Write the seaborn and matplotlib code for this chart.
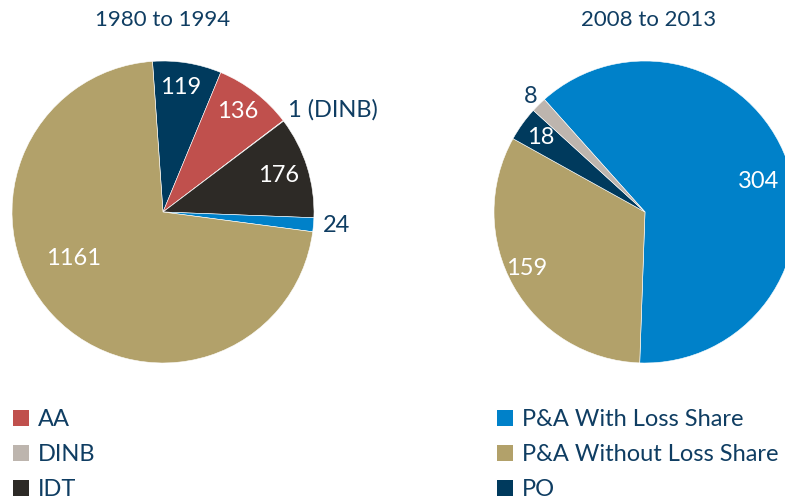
import numpy as np
import matplotlib
matplotlib.use("Agg")
import matplotlib.pyplot as plt
import seaborn as sns
from matplotlib.patches import Patch

sns.set_theme(style="white")
plt.rcParams["font.family"] = ["Lato", "DejaVu Sans"]

# data
left_title = "1980 to 1994"
left_cats = ["PO", "AA", "DINB", "IDT", "P&A With Loss Share", "P&A Without Loss Share"]
left_vals = [119, 136, 1, 176, 24, 1161]
left_text = ["119", "136", "1 (DINB)", "176", "24", "1161"]

right_title = "2008 to 2013"
right_cats = ["P&A With Loss Share", "P&A Without Loss Share", "PO", "DINB"]
right_vals = [304, 159, 18, 8]
right_text = ["304", "159", "18", "8"]

legend_left = ["AA", "DINB", "IDT"]
legend_right = ["P&A With Loss Share", "P&A Without Loss Share", "PO"]

colors = {
    "AA": "#c0504d",
    "DINB": "#bdb5ae",
    "IDT": "#2d2a26",
    "P&A With Loss Share": "#0081c9",
    "P&A Without Loss Share": "#b2a16a",
    "PO": "#003a5d",
}
text_col = "#0f3d62"

W, H = 785, 501
fig = plt.figure(figsize=(W / 100, H / 100), dpi=100)

R = 151


def draw_pie(cx, cy, vals, cats, texts, start, lab_r, lab_inside, lab_shift, title, title_x):
    ax = fig.add_axes([(cx - R) / W, (H - cy - R) / H, 2 * R / W, 2 * R / H])
    wedges, _ = ax.pie(vals, colors=[colors[c] for c in cats], startangle=start,
                       counterclock=False, radius=1,
                       wedgeprops=dict(linewidth=0.4, edgecolor="white"))
    ax.set_xlim(-1, 1)
    ax.set_ylim(-1, 1)
    ax.set_aspect("equal")
    ax.axis("off")
    for w, t, r, inside, sh in zip(wedges, texts, lab_r, lab_inside, lab_shift):
        a = np.deg2rad((w.theta1 + w.theta2) / 2 + sh)
        x, y = r * np.cos(a), r * np.sin(a)
        if inside:
            ax.text(x, y, t, color="white", fontsize=17, ha="center", va="center", clip_on=False)
        else:
            ax.text(x, y, t, color=text_col, fontsize=17, ha="left" if len(t) > 1 else "center",
                    va="center", clip_on=False)
    fig.text(title_x / W, 1 - 20 / H, title, color=text_col, fontsize=16, ha="center", va="center")
    return ax


draw_pie(163, 212, left_vals, left_cats, left_text, 94,
         [0.83, 0.83, 1.07, 0.80, 1.06, 0.67],
         [True, True, False, True, False, True],
         [1, 1, 2, 0, 0, -16], left_title, 163)
draw_pie(645, 212, right_vals, right_cats, right_text, 131.8,
         [0.78, 0.87, 0.85, 1.08],
         [True, True, True, False],
         [-5, -4, 0, 0], right_title, 649)

for labels, x in [(legend_left, 6), (legend_right, 490)]:
    handles = [Patch(facecolor=colors[l], edgecolor="none") for l in labels]
    leg = fig.legend(handles, labels, loc="upper left", bbox_to_anchor=(x / W, 1 - 402 / H),
                     frameon=False, fontsize=17, handlelength=0.68, handleheight=0.68,
                     handletextpad=0.36, labelspacing=0.6, borderaxespad=0, borderpad=0.3)
    for t in leg.get_texts():
        t.set_color(text_col)

fig.savefig("out.png", dpi=100)
